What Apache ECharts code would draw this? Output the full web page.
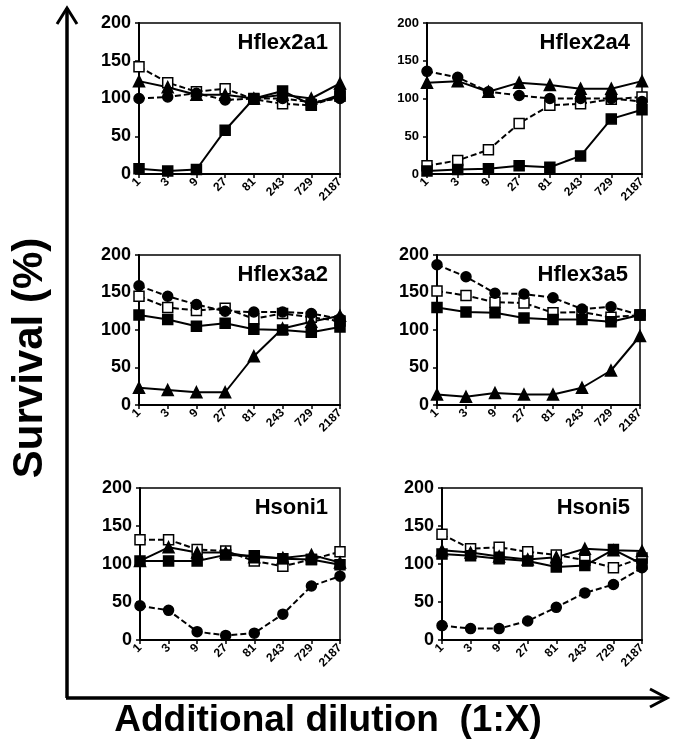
<!DOCTYPE html>
<html>
<head>
<meta charset="utf-8">
<script src="https://cdn.jsdelivr.net/npm/echarts@6/dist/echarts.min.js"></script>
<style>
  html, body { margin: 0; padding: 0; background: #fff; }
  #chart { width: 680px; height: 745px; }
</style>
</head>
<body>
<div id="chart"></div>
<script>
// Dilution steps (1:X) shared by every panel
var dilutions = ["1", "3", "9", "27", "81", "243", "729", "2187"];
var panelNames = ["Hflex2a1", "Hflex2a4", "Hflex3a2", "Hflex3a5", "Hsoni1", "Hsoni5"];

// Survival (%) per panel: filled square (solid), filled circle (dashed),
// open square (dashed), filled triangle (solid)
var hflex2a1Square   = [7, 4, 6, 58, 100, 110, 92, 105];
var hflex2a1Circle   = [100, 102, 107, 98, 100, 100, 95, 100];
var hflex2a1Open     = [142, 121, 109, 113, 99, 93, 91, 103];
var hflex2a1Triangle = [123, 115, 105, 105, 100, 105, 100, 120];

var hflex2a4Square   = [4, 6, 7, 11, 9, 24, 73, 85];
var hflex2a4Circle   = [136, 128, 109, 104, 100, 100, 100, 96];
var hflex2a4Open     = [11, 18, 32, 67, 91, 93, 99, 102];
var hflex2a4Triangle = [121, 123, 109, 121, 118, 113, 113, 123];

var hflex3a2Square   = [120, 114, 105, 109, 101, 100, 97, 104];
var hflex3a2Circle   = [159, 145, 134, 125, 124, 124, 122, 115];
var hflex3a2Open     = [145, 130, 126, 129, 115, 122, 117, 112];
var hflex3a2Triangle = [23, 20, 17, 17, 65, 102, 111, 119];

var hflex3a5Square   = [130, 124, 123, 116, 114, 114, 111, 120];
var hflex3a5Circle   = [187, 171, 149, 148, 143, 128, 131, 120];
var hflex3a5Open     = [152, 146, 137, 136, 123, 124, 117, 120];
var hflex3a5Triangle = [14, 11, 16, 14, 14, 23, 46, 92];

var hsoni1Square   = [104, 104, 104, 112, 111, 107, 106, 99];
var hsoni1Circle   = [45, 39, 11, 6, 9, 34, 71, 84];
var hsoni1Open     = [132, 132, 119, 117, 104, 97, 106, 116];
var hsoni1Triangle = [104, 122, 115, 115, 109, 108, 112, 102];

var hsoni5Square   = [113, 111, 107, 104, 96, 98, 119, 100];
var hsoni5Circle   = [19, 15, 15, 25, 43, 62, 73, 95];
var hsoni5Open     = [139, 120, 122, 116, 112, 105, 95, 108];
var hsoni5Triangle = [118, 115, 110, 106, 109, 120, 118, 117];

var panelData = [
  [hflex2a1Square, hflex2a1Circle, hflex2a1Open, hflex2a1Triangle],
  [hflex2a4Square, hflex2a4Circle, hflex2a4Open, hflex2a4Triangle],
  [hflex3a2Square, hflex3a2Circle, hflex3a2Open, hflex3a2Triangle],
  [hflex3a5Square, hflex3a5Circle, hflex3a5Open, hflex3a5Triangle],
  [hsoni1Square, hsoni1Circle, hsoni1Open, hsoni1Triangle],
  [hsoni5Square, hsoni5Circle, hsoni5Open, hsoni5Triangle]
];

// Plot areas, in px
var boxes = [
  { left: 139, top: 23,  width: 201, height: 151 },
  { left: 427, top: 23,  width: 215, height: 151 },
  { left: 139, top: 255, width: 201, height: 150 },
  { left: 437, top: 255, width: 203, height: 150 },
  { left: 140, top: 488, width: 200, height: 152 },
  { left: 442, top: 488, width: 200, height: 152 }
];

var FONT = '"Liberation Sans", Arial, sans-serif';

// marker / line styles for the four series
var styles = [
  { symbol: 'rect',     size: 10, fill: '#000', dash: 'solid' },
  { symbol: 'circle',   size: 10, fill: '#000', dash: [6, 3] },
  { symbol: 'rect',     size: 10, fill: '#fff', dash: [6, 3] },
  { symbol: 'triangle', size: 11, fill: '#000', dash: 'solid' }
];

var grids = [], xAxes = [], yAxes = [], series = [], graphics = [];

boxes.forEach(function (b, i) {
  grids.push({
    left: b.left, top: b.top, width: b.width, height: b.height,
    show: true, borderColor: '#000', borderWidth: 1.5, backgroundColor: 'transparent'
  });
  xAxes.push({
    type: 'category', gridIndex: i, data: dilutions, boundaryGap: false,
    axisLine: { lineStyle: { color: '#000', width: 2 } },
    axisTick: { show: true, alignWithLabel: true, length: 4, lineStyle: { color: '#000', width: 1.5 } },
    axisLabel: { rotate: 45, interval: 0, margin: 6, color: '#000', fontFamily: FONT, fontWeight: 'bold', fontSize: 12 },
    splitLine: { show: false }
  });
  yAxes.push({
    type: 'value', gridIndex: i, min: 0, max: 200, interval: 50,
    axisLine: { show: true, lineStyle: { color: '#000', width: 2 } },
    axisTick: { show: true, length: 4, lineStyle: { color: '#000', width: 1.5 } },
    axisLabel: { color: '#000', fontFamily: FONT, fontWeight: 'bold', fontSize: (i === 1 ? 13 : 18), margin: 8 },
    splitLine: { show: false }
  });

  // draw the solid ones last so the filled markers sit on top
  [2, 1, 3, 0].forEach(function (k) {
    var s = styles[k];
    series.push({
      type: 'line', xAxisIndex: i, yAxisIndex: i,
      data: panelData[i][k],
      symbol: s.symbol, symbolSize: s.size, showAllSymbol: true,
      itemStyle: { color: s.fill, borderColor: '#000', borderWidth: 1.5 },
      lineStyle: { color: '#000', width: 2, type: s.dash },
      emphasis: { disabled: true },
      animation: false
    });
  });

  // panel name, top right inside the box
  graphics.push({
    type: 'text',
    x: b.left + b.width - 12,
    y: b.top + 20,
    style: {
      text: panelNames[i], fill: '#000', align: 'right', verticalAlign: 'middle',
      font: 'bold 22px ' + FONT
    }
  });
});

// Big arrows and overall axis titles
graphics.push(
  { type: 'polyline', shape: { points: [[67, 698], [67, 8]] }, style: { stroke: '#000', lineWidth: 3.5, fill: null } },
  { type: 'polyline', shape: { points: [[57, 24], [67, 8], [77, 24]] }, style: { stroke: '#000', lineWidth: 3, fill: null } },
  { type: 'polyline', shape: { points: [[66, 698], [667, 698]] }, style: { stroke: '#000', lineWidth: 3.5, fill: null } },
  { type: 'polyline', shape: { points: [[650, 689], [667, 698], [650, 707]] }, style: { stroke: '#000', lineWidth: 3, fill: null } },
  {
    type: 'text', x: 328, y: 721,
    style: { text: 'Additional dilution  (1:X)', fill: '#000', align: 'center', verticalAlign: 'middle', font: 'bold 37px ' + FONT }
  },
  {
    type: 'text', x: 30, y: 358, rotation: Math.PI / 2,
    style: { text: 'Survival (%)', fill: '#000', align: 'center', verticalAlign: 'middle', font: 'bold 42px ' + FONT }
  }
);

var chart = echarts.init(document.getElementById('chart'), null, { renderer: 'canvas' });
chart.setOption({
  animation: false,
  backgroundColor: '#fff',
  grid: grids,
  xAxis: xAxes,
  yAxis: yAxes,
  series: series,
  graphic: graphics
});
</script>
</body>
</html>
